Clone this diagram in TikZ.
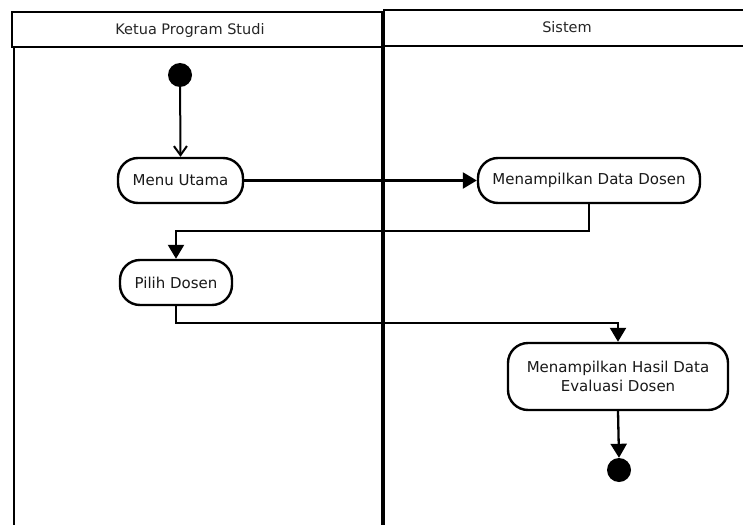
\documentclass[tikz,border=0pt]{standalone}
\usepackage{fontspec}
\setmainfont{DejaVu Sans}
\usetikzlibrary{arrows.meta}
\begin{document}
\begin{tikzpicture}[x=1pt,y=-1pt,
  lane/.style={line width=2.6pt},
  act/.style={draw,line width=2.4pt,rounded corners=20pt,inner sep=0pt,align=center,font=\fontsize{15}{19}\selectfont,text=black!90},
  hdr/.style={font=\fontsize{14.5}{18}\selectfont,text=black!85},
  dot/.style={circle,fill=black,inner sep=0pt,minimum size=24pt},
  arrT/.style={line width=2.3pt,-{Triangle[length=14pt,width=16pt]}},
  arrV/.style={line width=2pt,-{Straight Barb[length=9pt,width=13pt,line width=2pt]}}]
\useasboundingbox (0,0) rectangle (743,524);
\fill[white] (0,0) rectangle (743,524);
\begin{scope}
\clip (0,0) rectangle (743,524);
% swimlane headers
\draw[lane] (12,12) rectangle (382,47);
\draw[lane] (384,10) rectangle (750,46);
\node[hdr] (h1) at (190,31) {Ketua Program Studi};
\node[hdr] (h2) at (567,27) {Sistem};
% lane borders
\draw[lane] (14,47) -- (14,530);
\draw[lane] (382,47) -- (382,530);
\draw[lane] (384,46) -- (384,530);
\end{scope}
% nodes
\node[dot] (start) at (180,75) {};
\node[act,minimum width=125pt,minimum height=45pt] (mu) at (180.5,180.5) {Menu Utama};
\node[act,minimum width=222pt,minimum height=45pt] (mdd) at (589,180.5) {Menampilkan Data Dosen};
\node[act,minimum width=112pt,minimum height=45pt] (pd) at (176,282.5) {Pilih Dosen};
\node[act,minimum width=220pt,minimum height=67pt] (mh) at (618,376.5) {Menampilkan Hasil Data\\Evaluasi Dosen};
\node[dot] (end) at (619,470) {};
% connectors
\draw[arrV] (start) -- (mu.north);
\draw[arrT] (mu.east) -- (mdd.west);
\draw[arrT] (mdd.south) -- ++(0,27) -| (pd.north);
\draw[arrT] (pd.south) -- ++(0,17) -| (mh.north);
\draw[arrT] (mh.south) -- (end.north);
\end{tikzpicture}
\end{document}
